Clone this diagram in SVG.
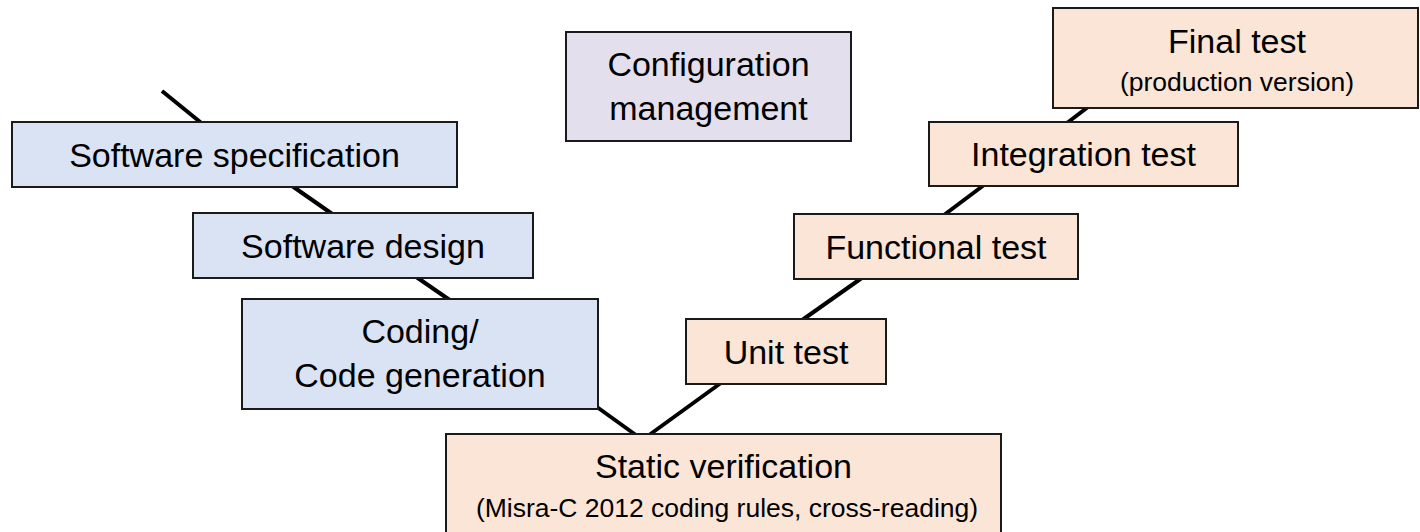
<svg xmlns="http://www.w3.org/2000/svg" width="1420" height="532" viewBox="0 0 1420 532">
<style>
.blue{fill:#DAE3F3;stroke:#1a1a1a;stroke-width:2}
.peach{fill:#FBE5D6;stroke:#1a1a1a;stroke-width:2}
.lav{fill:#E4DFEC;stroke:#1a1a1a;stroke-width:2}
.t{font-family:"Liberation Sans",Arial,sans-serif;font-size:34px;fill:#000;text-anchor:middle}
.s{font-family:"Liberation Sans",Arial,sans-serif;font-size:26.5px;fill:#000;text-anchor:middle}
.c{stroke:#000;stroke-width:4;fill:none}
</style>
<rect width="1420" height="532" fill="#fff"/>
<g id="connectors">
<line class="c" x1="162" y1="91" x2="210" y2="130"/>
<line class="c" x1="285" y1="181" x2="338" y2="218"/>
<line class="c" x1="412" y1="274" x2="454" y2="303"/>
<line class="c" x1="590" y1="402" x2="640" y2="438"/>
<line class="c" x1="645" y1="438" x2="725" y2="380"/>
<line class="c" x1="798" y1="323" x2="866" y2="275"/>
<line class="c" x1="940" y1="218" x2="988" y2="182"/>
<line class="c" x1="1063" y1="126" x2="1092" y2="104"/>
</g>
<g id="spec">
<rect class="blue" x="12" y="122" width="445" height="65"/>
<text class="t" x="234.5" y="166.5">Software specification</text>
</g>
<g id="design">
<rect class="blue" x="193" y="213" width="340" height="65"/>
<text class="t" x="363" y="257.5">Software design</text>
</g>
<g id="coding">
<rect class="blue" x="242" y="299" width="356" height="110"/>
<text class="t" x="420" y="343">Coding/</text>
<text class="t" x="420" y="387">Code generation</text>
</g>
<g id="static">
<rect class="peach" x="446" y="434" width="555" height="104"/>
<text class="t" x="723.5" y="478">Static verification</text>
<text class="s" x="727" y="517">(Misra-C 2012 coding rules, cross-reading)</text>
</g>
<g id="unit">
<rect class="peach" x="686" y="319" width="200" height="65"/>
<text class="t" x="786" y="363.5">Unit test</text>
</g>
<g id="functional">
<rect class="peach" x="794" y="214" width="284" height="65"/>
<text class="t" x="936" y="258.5">Functional test</text>
</g>
<g id="integration">
<rect class="peach" x="929" y="122" width="309" height="64"/>
<text class="t" x="1083.5" y="166">Integration test</text>
</g>
<g id="final">
<rect class="peach" x="1053" y="8" width="365" height="100"/>
<text class="t" x="1237" y="53">Final test</text>
<text class="s" x="1237" y="91">(production version)</text>
</g>
<g id="config">
<rect class="lav" x="566" y="32" width="285" height="109"/>
<text class="t" x="708.5" y="76">Configuration</text>
<text class="t" x="708.5" y="120">management</text>
</g>
</svg>
